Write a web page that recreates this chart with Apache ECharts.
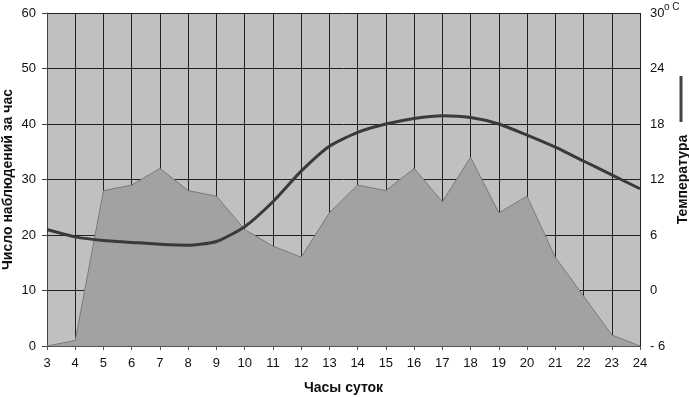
<!DOCTYPE html>
<html><head><meta charset="utf-8">
<script src="https://cdn.jsdelivr.net/npm/echarts@6/dist/echarts.min.js"></script>
<style>html,body{margin:0;padding:0;background:#fff}#c{width:689px;height:397px}</style>
</head><body><div id="c"></div>
<script>
var hours = [3,4,5,6,7,8,9,10,11,12,13,14,15,16,17,18,19,20,21,22,23,24];
var observations = [0,1,28,29,32,28,27,21,18,16,24,29,28,32,26,34,24,27,16,9,2,0];
var temperature = [6.6,5.8,5.4,5.2,5.0,4.9,5.3,6.9,9.6,12.9,15.6,17.1,18.0,18.6,18.9,18.7,18.0,16.8,15.5,14.0,12.5,11.0];
var xTitle = 'Часы суток';
var yLeftTitle = 'Число наблюдений за час';
var legendTitle = 'Температура';

var chart = echarts.init(document.getElementById('c'));
var font = 'Liberation Sans, Arial, sans-serif';
var lbl = {fontFamily: font, fontSize: 13, color: '#111'};
var nm = {fontFamily: font, fontSize: 14, fontWeight: 'bold', color: '#111'};
chart.setOption({
  animation: false,
  backgroundColor: '#fff',
  grid: {left: 47, right: 49, top: 13, bottom: 51, show: true, backgroundColor: '#c0c0c0', borderWidth: 0, containLabel: false, outerBoundsMode: 'none'},
  xAxis: {
    type: 'value', min: 3, max: 24, interval: 1,
    name: xTitle, nameLocation: 'middle', nameGap: 35, nameTextStyle: nm, nameMoveOverlap: false,
    axisLine: {show: true, lineStyle: {color: '#555', width: 1}},
    axisTick: {show: true, length: 4, lineStyle: {color: '#555'}},
    axisLabel: Object.assign({margin: 11}, lbl),
    splitLine: {show: true, lineStyle: {color: '#222', width: 1}}
  },
  yAxis: [{
    type: 'value', min: 0, max: 60, interval: 10,
    name: yLeftTitle, nameLocation: 'middle', nameGap: 32, nameRotate: 90, nameTextStyle: nm, nameMoveOverlap: false,
    axisLine: {show: true, lineStyle: {color: '#444', width: 1}},
    axisTick: {show: true, length: 5, lineStyle: {color: '#444'}},
    axisLabel: Object.assign({margin: 11}, lbl),
    splitLine: {show: true, lineStyle: {color: '#222', width: 1}}
  }, {
    type: 'value', min: -6, max: 30, interval: 6, position: 'right',
    name: legendTitle, nameLocation: 'middle', nameGap: 34, nameRotate: 90, nameTextStyle: nm,
    axisLine: {show: false}, axisTick: {show: false},
    axisLabel: Object.assign({margin: 10,
      formatter: function(v){ return v < 0 ? '- ' + Math.abs(v) : String(v); }}, lbl),
    splitLine: {show: false}
  }],
  graphic: [
    {type: 'text', left: 664, top: 2, style: {text: 'o C', fontFamily: font, fontSize: 10, fill: '#111'}},
    {type: 'line', shape: {x1: 681, y1: 76, x2: 681, y2: 122}, style: {stroke: '#444', lineWidth: 3}}
  ],
  series: [{
    type: 'line', yAxisIndex: 0,
    data: hours.map(function(h,i){ return [h, observations[i]]; }),
    symbol: 'none',
    lineStyle: {color: '#7a7a7a', width: 1},
    areaStyle: {color: '#a2a2a2', opacity: 1},
    z: 2
  }, {
    type: 'line', yAxisIndex: 1,
    data: hours.map(function(h,i){ return [h, temperature[i]]; }),
    symbol: 'none', smooth: 0.2,
    lineStyle: {color: '#3a3a3a', width: 3},
    z: 3
  }]
});
</script></body></html>
